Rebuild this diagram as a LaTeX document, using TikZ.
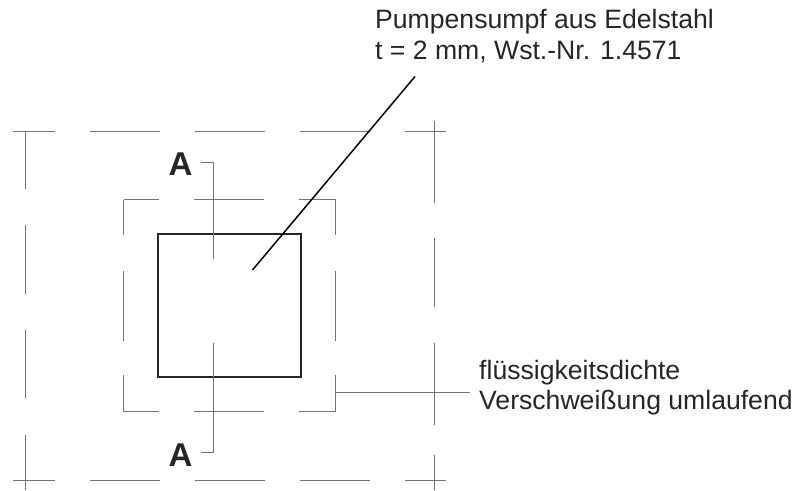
\documentclass[tikz,border=0pt]{standalone}
\usepackage{fontspec}
\setmainfont{Liberation Sans}
\definecolor{thinline}{gray}{0.45}
\definecolor{inkdark}{gray}{0.15}
\begin{document}
\begin{tikzpicture}[x=1pt,y=-1pt,
    thin line/.style = {draw=thinline,line width=0.8pt},
    pump/.style = {rectangle,draw=inkdark,line width=1.6pt,minimum size=143pt,inner sep=0pt,outer sep=0pt},
    note/.style = {anchor=base west,inner sep=0pt,text=inkdark,font=\fontsize{26.6}{32}\selectfont},
    cut/.style = {anchor=base,inner sep=0pt,text=inkdark,font=\fontsize{33}{33}\selectfont\bfseries}]
    \useasboundingbox (0,0) rectangle (803,490);
    % outer outline
    \foreach \a/\b in {13/55,90/160,195/265,300/370,405/446} {
        \draw[thin line] (\a,131) -- (\b,131);
        \draw[thin line] (\a,480) -- (\b,480);
    }
    \foreach \a/\b in {131/189,225/294,330/398,435/490} \draw[thin line] (25,\a) -- (25,\b);
    \foreach \a/\b in {121/203,238/307,343/425,455/490} \draw[thin line] (434,\a) -- (434,\b);
    % middle outline
    \foreach \a/\b in {123.5/159,194/264,299/335.5} {
        \draw[thin line] (\a,199.5) -- (\b,199.5);
        \draw[thin line] (\a,411.5) -- (\b,411.5);
    }
    \foreach \a/\b in {199.5/235,271/341,375/411.5} {
        \draw[thin line] (123.5,\a) -- (123.5,\b);
        \draw[thin line] (335.5,\a) -- (335.5,\b);
    }
    \node[pump] (sump) at (229.5,305.5) {};
    % section marks
    \node[cut] (cutA) at (180.5,175) {A};
    \node[cut] (cutB) at (180.5,466) {A};
    \coordinate (cutAa) at (201,162);
    \coordinate (cutAb) at (213.5,259);
    \coordinate (cutBa) at (201,452);
    \coordinate (cutBb) at (213.5,343);
    \draw[thin line] (cutAa) -| (cutAb);
    \draw[thin line] (cutBa) -| (cutBb);
    % labels
    \node[note] (topnote) at (375,28) {Pumpensumpf aus Edelstahl};
    \node[note] (topnoteb) at (375,59) {t = 2 mm, Wst.-Nr. 1.4571};
    \node[note] (sidenote) at (479,379) {flüssigkeitsdichte};
    \node[note] (sidenoteb) at (479,409) {Verschweißung umlaufend};
    \coordinate (leadA) at (415,76.5);
    \coordinate (leadB) at (252.5,270);
    \coordinate (leadC) at (335.5,392);
    \coordinate (leadD) at (470,392);
    \draw[line width=1.5pt,black] (leadA) -- (leadB);
    \draw[thin line] (leadC) -- (leadD);
\end{tikzpicture}
\end{document}
